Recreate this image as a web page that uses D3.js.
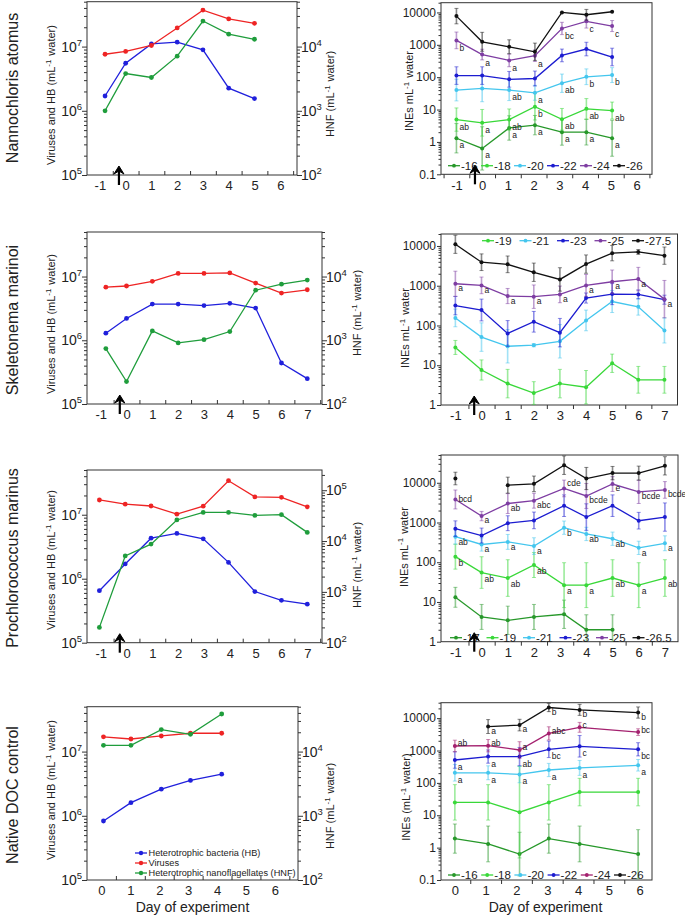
<!DOCTYPE html>
<html><head><meta charset="utf-8">
<script src="https://cdn.jsdelivr.net/npm/d3@7"></script>
<style>
body{margin:0;background:#fff}
svg{display:block}
text{font-family:"Liberation Sans",Arial,sans-serif;fill:#222}
</style>
</head><body>
<svg id="c" width="685" height="918"></svg>
<script>
// ---------------- DATA ----------------
// Left panels: Heterotrophic bacteria (HB), viruses, HNF
const naDays = [-0.8, 0, 1, 2, 3, 4, 5];
const naHB   = [1.7e6, 5.5e6, 1.1e7, 1.17e7, 8.9e6, 2.25e6, 1.55e6];
const naVir  = [7.6e6, 8.4e6, 1.04e7, 1.95e7, 3.7e7, 2.7e7, 2.3e7];
const naHNF  = [1000, 3800, 3300, 7100, 25000, 15600, 13000];

const smDays = [-0.8, 0, 1, 2, 3, 4, 5, 6, 7];
const smHB   = [1.29e6, 2.2e6, 3.7e6, 3.7e6, 3.5e6, 3.8e6, 3.2e6, 4.4e5, 2.5e5];
const smVir  = [6.8e6, 7.1e6, 8.4e6, 1.12e7, 1.12e7, 1.14e7, 7.9e6, 5.5e6, 6.2e6];
const smHNF  = [740, 225, 1400, 910, 1020, 1370, 6100, 7600, 8800];

const pmDays = [-1.05, -0.05, 0.95, 1.95, 2.97, 3.95, 4.97, 6, 7];
const pmHB   = [6.5e5, 1.7e6, 4.3e6, 5.1e6, 4.2e6, 1.8e6, 6.3e5, 4.6e5, 4.0e5];
const pmVir  = [1.7e7, 1.46e7, 1.37e7, 1.02e7, 1.36e7, 3.4e7, 1.9e7, 1.87e7, 1.33e7];
const pmHNF  = [200, 5100, 8700, 26000, 36600, 36600, 32000, 33000, 14800];

const docDays = [0.07, 1.02, 2.07, 3.08, 4.16];
const docHB   = [8.3e5, 1.6e6, 2.6e6, 3.55e6, 4.45e6];
const docVir  = [1.7e7, 1.57e7, 1.75e7, 1.93e7, 1.93e7];
const docHNF  = [12500, 12500, 22000, 18600, 38500];

const leftLegend = ["Heterotrophic bacteria (HB)", "Viruses", "Heterotrophic nanoflagellates (HNF)"];

// Right panels: INEs active at given temperatures (value, error factor, letters)
const naIneDays = [-1, 0, 1.05, 2.05, 3.1, 4.05, 5.05];
const naT = ["-16", "-18", "-20", "-22", "-24", "-26"];
const na16 = [1.3, 0.63, 2.7, 3.3, 2.0, 2.0, 1.3];
const na18 = [4.9, 3.9, 4.9, 12.3, 5.0, 10.5, 9.3];
const na20 = [40, 45, 40, 33, 65, 103, 116];
const na22 = [112, 112, 86, 91, 470, 740, 420];
const na24 = [1370, 500, 330, 460, 3200, 5300, 3800];
const na26 = [7700, 1240, 870, 610, 10000, 8500, 10500];
const naE16 = [2.84, 4.66, 2.38, 1.99, 2.52, 2.49, 3.6];
const naE18 = [2.29, 2.58, 2.13, 2.58, 2.16, 2.08, 1.83];
const naE20 = [2.16, 2.58, 2.11, 1.70, 1.92, 1.75, 1.70];
const naE22 = [1.87, 1.87, 1.75, 1.70, 1.57, 1.62, 1.87];
const naE24 = [1.81, 1.46, 1.57, 1.51, 1.55, 1.61, 1.48];
const naE26 = [1.73, 1.96, 1.64, 1.85, 1, 1.46, 1];
const naL16 = ["a", "a", "a", "a", "a", "a", "a"];
const naL18 = ["ab", "a", "ab", "b", "ab", "ab", "ab"];
const naL20 = ["", "", "ab", "a", "ab", "b", "b"];
const naL24 = ["b", "a", "a", "a", "bc", "c", "c"];

const smIneDays = [-1, 0, 1, 2, 3, 4, 5, 6, 7];
const smT = ["-19", "-21", "-23", "-25", "-27.5"];
const sm19 = [28, 7.6, 3.45, 2.0, 3.45, 2.8, 11.2, 4.3, 4.3];
const sm21 = [155, 51, 30, 32, 40, 134, 400, 295, 75];
const sm23 = [316, 245, 63, 124, 66, 490, 615, 605, 445];
const sm25 = [1120, 1020, 550, 530, 605, 1020, 1260, 1470, 460];
const sm275 = [11000, 3900, 3450, 2180, 1440, 3500, 6600, 7070, 5700];
const smE19 = [1.50, 1.79, 2.28, 1.93, 2.28, 2.63, 1.70, 2.17, 2.17];
const smE21 = [1.67, 2.28, 2.63, 1.1, 2.63, 1.82, 1.89, 1.62, 2.07];
const smE23 = [1.70, 1.88, 2.11, 1.82, 2.28, 1.34, 1.84, 1.3, 1.3];
const smE25 = [2.07, 1.62, 1.55, 1.97, 1.62, 1.88, 1.97, 1.97, 2.95];
const smE275 = [1.69, 1.62, 1.62, 1.70, 1.97, 1.70, 1.56, 1.15, 1.65];
const smL25 = ["a", "a", "a", "a", "a", "a", "a", "a", "a"];

const pmIneDays = [-1, 0, 1, 2, 3.15, 4, 5, 6, 7];
const pmT = ["-17", "-19", "-21", "-23", "-25", "-26.5"];
const pm17 = [13.1, 4.2, 3.45, 4.2, 4.9, 2.0, 2.0, null, null];
const pm19 = [138, 55, 40, 85, 26.5, 26.5, 40, 26.5, 40];
const pm21 = [440, 280, 325, 255, 740, 515, 390, 230, 300];
const pm23 = [700, 470, 960, 1130, 2650, 1370, 2650, 1110, 1370];
const pm25 = [3800, 1450, 3000, 3540, 7200, 4650, 9300, 5900, 6600];
const pm265 = [12800, null, 8700, 9400, 27700, 12800, 17500, 17500, 26700];
const pmE17 = [1.78, 2.06, 2.27, 2.06, 2.27, 2.38, 2.38, 1, 1];
const pmE19 = [2.06, 2.5, 2.89, 2.06, 3.67, 3.67, 2.89, 3.67, 2.89];
const pmE21 = [1.54, 1.47, 1.54, 1.62, 1.47, 1.47, 1.47, 1.47, 1.54];
const pmE23 = [1.57, 1.54, 1.54, 1.62, 1.87, 2.16, 1.87, 1.62, 2.27];
const pmE25 = [1.73, 1.31, 1.78, 1.54, 1.62, 2.06, 1.54, 1.96, 1.62];
const pmE265 = [1.44, 1, 1.59, 1.57, 1.71, 1.90, 1.47, 1.50, 1.70];
const pmL19 = ["b", "ab", "ab", "ab", "a", "a", "ab", "a", "ab"];
const pmL21 = ["ab", "a", "a", "a", "b", "ab", "ab", "a", "a"];
const pmL25 = ["bcd", "a", "ab", "abc", "cde", "bcde", "e", "bcde", "bcde"];

const docIneDays = [0, 1.08, 2.1, 3.05, 4.05, 5.95];
const docT = ["-16", "-18", "-20", "-22", "-24", "-26"];
const doc16 = [1.9, 1.3, 0.63, 1.9, 1.3, 0.63];
const doc18 = [25, 25, 12.4, 25, 52, 52];
const doc20 = [205, 205, 182, 250, 290, 350];
const doc22 = [510, 650, 650, 1090, 1350, 1090];
const doc24 = [1380, 1410, 1040, 3380, 5200, 3700];
const doc26 = [null, 5500, 6100, 21300, 18000, 14900];
const docE16 = [2.82, 3.57, 4.73, 2.82, 3.57, 5.7];
const docE18 = [3.53, 3.53, 25.9, 3.53, 2.66, 2.66];
const docE20 = [1.8, 1.64, 1.8, 1.6, 1.7, 1.51];
const docE22 = [1.8, 1.6, 1.91, 1.8, 2.15, 1.6];
const docE24 = [1.51, 1.55, 1.8, 1.6, 1.42, 1.27];
const docE26 = [1, 1.64, 1.51, 1.34, 1.48, 1.49];
const docL20 = ["a", "a", "a", "a", "a", "a"];
const docL22 = ["a", "a", "ab", "bc", "c", "bc"];
const docL24 = ["ab", "ab", "a", "abc", "c", "bc"];
const docL26 = ["", "a", "a", "b", "b", "b"];

const rowLabels = ["Nannochloris atomus", "Skeletonema marinoi", "Prochlorococcus marinus", "Native DOC control"];

// ---------------- STYLE ----------------
const COL = {hb: "#2020dc", vir: "#ee2424", hnf: "#1f9d3c",
  dg: "#27982a", lg: "#39d839", cy: "#44c6ee", bl: "#1c1cd0", pu: "#7e3da2", mg: "#a4216f", bk: "#111111"};

const svg = d3.select("#c");

function logTicks(dom) {
  const maj = [], min = [];
  const e0 = Math.floor(Math.log10(dom[0])), e1 = Math.ceil(Math.log10(dom[1]));
  for (let e = e0; e <= e1; e++) for (let m = 1; m < 10; m++) {
    const v = +(m * Math.pow(10, e)).toPrecision(6);
    if (v < dom[0] * 0.999 || v > dom[1] * 1.001) continue;
    (m === 1 ? maj : min).push(v);
  }
  return {maj, min};
}

function rotLabel(g, x, y, parts, size) {
  const t = g.append("text").attr("transform", `translate(${x},${y}) rotate(-90)`)
    .attr("text-anchor", "middle").attr("font-size", size);
  parts.forEach(p => {
    if (p.sup) {
      t.append("tspan").attr("dy", -size * 0.38).attr("font-size", size * 0.72).text(p.t);
      t.append("tspan").attr("dy", size * 0.38).text("\u200A");
    } else t.append("tspan").text(p.t);
  });
}

function drawArrow(g, xp, yp) {
  g.append("line").attr("x1", xp).attr("x2", xp).attr("y1", yp + 10).attr("y2", yp - 4)
    .attr("stroke", "#000").attr("stroke-width", 2.2);
  g.append("path").attr("d", `M${xp},${yp - 9} L${xp + 5},${yp - 1} L${xp},${yp - 4} L${xp - 5},${yp - 1} Z`)
    .attr("fill", "#000").attr("stroke", "#000").attr("stroke-width", 1);
}

function xAxisDecor(g, x, c, inward) {
  const [d0, d1] = x.domain();
  const halves = d3.range(Math.ceil(d0 - 0.5) + 0.5, d1, 1).filter(v => v > d0 + 0.05 && v < d1 - 0.05);
  const ax = g.append("g").attr("transform", `translate(0,${c.y1})`)
    .call(d3.axisBottom(x).tickValues(halves).tickSize(inward ? -4 : 4).tickFormat(""));
  ax.select(".domain").remove();
  ax.selectAll("line").attr("stroke", "#333");
  const lab = g.append("g").attr("transform", `translate(0,${c.y1})`)
    .call(d3.axisBottom(x).tickValues(c.xlabels).tickSize(0).tickPadding(6).tickFormat(d => String(d)));
  lab.select(".domain").remove();
  lab.selectAll("text").attr("font-size", 13).attr("fill", "#222")
    .attr("font-family", '"Liberation Sans",Arial,sans-serif');
}

function yAxisLog(g, y, xpos, orient, majLen, minLen) {
  const t = logTicks(y.domain());
  const A = orient === "left" ? d3.axisLeft : d3.axisRight;
  const a1 = g.append("g").attr("transform", `translate(${xpos},0)`)
    .call(A(y).tickValues(t.min).tickSize(minLen).tickFormat(""));
  const a2 = g.append("g").attr("transform", `translate(${xpos},0)`)
    .call(A(y).tickValues(t.maj).tickSize(majLen).tickFormat(""));
  [a1, a2].forEach(a => { a.select(".domain").remove(); a.selectAll("line").attr("stroke", "#333"); });
  return t.maj;
}

// ---------------- LEFT PANELS ----------------
function leftPanel(c) {
  const g = svg.append("g");
  const x = d3.scaleLinear().domain(c.xdom).range([c.x0, c.x1]);
  const yL = d3.scaleLog().domain([1e5, 5e7]).range([c.y1, c.y0]);
  const yR = d3.scaleLog().domain(c.yR).range([c.y1, c.y0]);

  xAxisDecor(g, x, c, true);
  const majL = yAxisLog(g, yL, c.x0, "left", 5, 3);
  const majR = yAxisLog(g, yR, c.x1, "right", 5, 3);
  g.append("rect").attr("x", c.x0).attr("y", c.y0).attr("width", c.x1 - c.x0).attr("height", c.y1 - c.y0)
    .attr("fill", "none").attr("stroke", "#333").attr("stroke-width", 1);

  majL.forEach(v => {
    const t = g.append("text").attr("x", c.x0 - 5).attr("y", yL(v) + 5).attr("text-anchor", "end").attr("font-size", 14);
    t.append("tspan").text("10");
    t.append("tspan").attr("dy", -6).attr("font-size", 9.5).text(Math.round(Math.log10(v)));
  });
  majR.forEach(v => {
    const t = g.append("text").attr("x", c.x1 + 4).attr("y", yR(v) + 5).attr("text-anchor", "start").attr("font-size", 14);
    t.append("tspan").text("10");
    t.append("tspan").attr("dy", -6).attr("font-size", 9.5).text(Math.round(Math.log10(v)));
  });

  rotLabel(g, c.x0 - 32, c.labL, [{t: "Viruses and HB (mL"}, {t: "-1", sup: true}, {t: " water)"}], 11);
  rotLabel(g, c.hnfX, c.labR, [{t: "HNF (mL"}, {t: "-1", sup: true}, {t: " water)"}], 11);
  g.append("text").attr("transform", `translate(17.5,${c.rowY}) rotate(-90)`).attr("text-anchor", "middle")
    .attr("font-size", 16).text(c.row);

  const series = [
    {v: c.hb, y: yL, col: COL.hb},
    {v: c.vir, y: yL, col: COL.vir},
    {v: c.hnf, y: yR, col: COL.hnf}
  ];
  series.forEach(s => {
    const pts = c.days.map((d, i) => ({d, v: s.v[i]}));
    g.append("path").datum(pts).attr("fill", "none").attr("stroke", s.col).attr("stroke-width", 1.3)
      .attr("d", d3.line().x(p => x(p.d)).y(p => s.y(p.v)));
    g.selectAll(null).data(pts).join("circle").attr("cx", p => x(p.d)).attr("cy", p => s.y(p.v))
      .attr("r", 2.4).attr("fill", s.col);
  });
  if (c.arrow) drawArrow(g, x(-0.26), c.y1);
  if (c.legend) {
    const cols = [COL.hb, COL.vir, COL.hnf];
    leftLegend.forEach((name, i) => {
      const yy = c.legend.y + i * 10;
      g.append("line").attr("x1", c.legend.x).attr("x2", c.legend.x + 12).attr("y1", yy).attr("y2", yy)
        .attr("stroke", cols[i]).attr("stroke-width", 1.3);
      g.append("circle").attr("cx", c.legend.x + 6).attr("cy", yy).attr("r", 2.2).attr("fill", cols[i]);
      g.append("text").attr("x", c.legend.x + 13.5).attr("y", yy + 3.3).attr("font-size", 9.2).text(name);
    });
  }
  if (c.xtitle) g.append("text").attr("x", (c.x0 + c.x1) / 2).attr("y", 912).attr("text-anchor", "middle")
    .attr("font-size", 14).text("Day of experiment");
}

// ---------------- RIGHT PANELS ----------------
function rightPanel(c) {
  const g = svg.append("g");
  const x = d3.scaleLinear().domain(c.xdom).range([c.x0, c.x1]);
  const y = d3.scaleLog().domain(c.ydom).range([c.y1, c.y0]).clamp(true);

  xAxisDecor(g, x, c, false);
  const maj = yAxisLog(g, y, c.x0, "left", 4, 2.5);
  g.append("rect").attr("x", c.x0).attr("y", c.y0).attr("width", c.x1 - c.x0).attr("height", c.y1 - c.y0)
    .attr("fill", "none").attr("stroke", "#333").attr("stroke-width", 1);
  maj.forEach(v => {
    g.append("text").attr("x", c.x0 - 5).attr("y", y(v) + 4.2).attr("text-anchor", "end")
      .attr("font-size", 12).text(v < 1 ? String(v) : d3.format("d")(v));
  });
  rotLabel(g, c.labX, c.labY, c.ylab, 11);

  c.series.forEach(s => {
    const pts = c.days.map((d, i) => ({d, v: s.v[i], e: s.e[i], l: s.l ? s.l[i] : ""}));
    const ok = pts.filter(p => p.v != null);
    // error bars
    ok.filter(p => p.e > 1.001).forEach(p => {
      const xp = x(p.d), ya = y(p.v * p.e), yb = y(p.v / p.e);
      g.append("line").attr("x1", xp).attr("x2", xp).attr("y1", ya).attr("y2", yb)
        .attr("stroke", s.col).attr("stroke-opacity", 0.5).attr("stroke-width", 1.6);
      [ya, yb].forEach(yy => {
        if (yy >= c.y1 - 0.5) return;
        g.append("line").attr("x1", xp - 2).attr("x2", xp + 2).attr("y1", yy).attr("y2", yy)
          .attr("stroke", s.col).attr("stroke-opacity", 0.5).attr("stroke-width", 1);
      });
    });
    g.append("path").datum(pts).attr("fill", "none").attr("stroke", s.col).attr("stroke-width", 1.3)
      .attr("d", d3.line().defined(p => p.v != null).x(p => x(p.d)).y(p => y(p.v)));
    g.selectAll(null).data(ok).join("circle").attr("cx", p => x(p.d)).attr("cy", p => y(p.v))
      .attr("r", 2).attr("fill", s.col);
    ok.filter(p => p.l).forEach(p => {
      const dy = (s.ldy || {})[p.l] !== undefined ? s.ldy[p.l] : (s.ly !== undefined ? s.ly : 10);
      g.append("text").attr("x", x(p.d) + 3).attr("y", y(p.v) + dy).attr("font-size", 8.5)
        .attr("fill", "#333").text(p.l);
    });
  });

  // legend
  c.series.forEach((s, i) => {
    const lx = c.leg.x + i * c.leg.step, ly = c.leg.y;
    g.append("line").attr("x1", lx).attr("x2", lx + 12).attr("y1", ly).attr("y2", ly)
      .attr("stroke", s.col).attr("stroke-width", 1.3);
    g.append("circle").attr("cx", lx + 6).attr("cy", ly).attr("r", 1.9).attr("fill", s.col);
    g.append("text").attr("x", lx + 13).attr("y", ly + 4).attr("font-size", 11.5).text(s.name);
  });
  if (c.arrow) drawArrow(g, x(-0.28), c.y1);
  if (c.xtitle) g.append("text").attr("x", (c.x0 + c.x1) / 2 - 1).attr("y", 912).attr("text-anchor", "middle")
    .attr("font-size", 14).text("Day of experiment");
}

// ---------------- LAYOUT ----------------
leftPanel({x0: 87, x1: 297, y0: 1.7, y1: 175, xdom: [-1.5, 6.65], yR: [1e2, 5e4], xlabels: d3.range(-1, 7),
  days: naDays, hb: naHB, vir: naVir, hnf: naHNF, row: rowLabels[0], rowY: 88, labL: 95, labR: 94, hnfX: 334, arrow: true});
leftPanel({x0: 87, x1: 322, y0: 232, y1: 404, xdom: [-1.53, 7.57], yR: [1e2, 5e4], xlabels: d3.range(-1, 8),
  days: smDays, hb: smHB, vir: smVir, hnf: smHNF, row: rowLabels[1], rowY: 320, labL: 324, labR: 313, hnfX: 361, arrow: true});
leftPanel({x0: 87, x1: 322, y0: 470, y1: 642.7, xdom: [-1.53, 7.57], yR: [1e2, 2.5e5], xlabels: d3.range(-1, 8),
  days: pmDays, hb: pmHB, vir: pmVir, hnf: pmHNF, row: rowLabels[2], rowY: 558, labL: 560, labR: 565, hnfX: 361, arrow: true});
leftPanel({x0: 87, x1: 298, y0: 706.7, y1: 880, xdom: [-0.5, 6.8], yR: [1e2, 5e4], xlabels: d3.range(0, 7),
  days: docDays, hb: docHB, vir: docVir, hnf: docHNF, row: rowLabels[3], rowY: 795, labL: 790, labR: 806, hnfX: 334,
  legend: {x: 135, y: 853}, xtitle: true});

const supParts = [{t: "INEs mL"}, {t: "-1", sup: true}, {t: " water"}];
rightPanel({x0: 441, x1: 652, y0: 2.7, y1: 174.3, xdom: [-1.6, 6.6], ydom: [0.1, 2e4], xlabels: d3.range(-1, 7),
  days: naIneDays, labX: 413, labY: 91, ylab: supParts, arrow: true, leg: {x: 448, y: 165.7, step: 33},
  series: [
    {name: naT[0], v: na16, e: naE16, l: naL16, col: COL.dg},
    {name: naT[1], v: na18, e: naE18, l: naL18, col: COL.lg},
    {name: naT[2], v: na20, e: naE20, l: naL20, col: COL.cy},
    {name: naT[3], v: na22, e: naE22, col: COL.bl},
    {name: naT[4], v: na24, e: naE24, l: naL24, col: COL.pu, ly: 11},
    {name: naT[5], v: na26, e: naE26, col: COL.bk}]});
rightPanel({x0: 441, x1: 677.5, y0: 234, y1: 405, xdom: [-1.55, 7.5], ydom: [1, 2e4], xlabels: d3.range(-1, 8),
  days: smIneDays, labX: 409, labY: 328, ylab: supParts, arrow: true, leg: {x: 482, y: 240.7, step: 37.5},
  series: [
    {name: smT[0], v: sm19, e: smE19, col: COL.lg},
    {name: smT[1], v: sm21, e: smE21, col: COL.cy},
    {name: smT[2], v: sm23, e: smE23, col: COL.bl},
    {name: smT[3], v: sm25, e: smE25, l: smL25, col: COL.pu, ly: 7.5},
    {name: smT[4], v: sm275, e: smE275, col: COL.bk}]});
rightPanel({x0: 441, x1: 678, y0: 455, y1: 641.7, xdom: [-1.55, 7.5], ydom: [1, 5e4], xlabels: d3.range(-1, 8),
  days: pmIneDays, labX: 407.5, labY: 547, ylab: supParts, arrow: true, leg: {x: 450, y: 637.7, step: 36.5},
  series: [
    {name: pmT[0], v: pm17, e: pmE17, col: COL.dg},
    {name: pmT[1], v: pm19, e: pmE19, l: pmL19, col: COL.lg, ly: 9},
    {name: pmT[2], v: pm21, e: pmE21, l: pmL21, col: COL.cy, ly: 8},
    {name: pmT[3], v: pm23, e: pmE23, col: COL.bl},
    {name: pmT[4], v: pm25, e: pmE25, l: pmL25, col: COL.pu, ly: 7, ldy: {cde: -2, bcd: 3}},
    {name: pmT[5], v: pm265, e: pmE265, col: COL.bk}]});
rightPanel({x0: 441, x1: 652, y0: 702.7, y1: 880, xdom: [-0.45, 6.4], ydom: [0.1, 3e4], xlabels: d3.range(0, 7),
  days: docIneDays, labX: 410, labY: 797, ylab: [{t: "INEs (mL"}, {t: "-1", sup: true}, {t: " water)"}], arrow: false,
  leg: {x: 448, y: 875, step: 33.2}, xtitle: true,
  series: [
    {name: docT[0], v: doc16, e: docE16, col: COL.dg},
    {name: docT[1], v: doc18, e: docE18, col: COL.lg},
    {name: docT[2], v: doc20, e: docE20, l: docL20, col: COL.cy, ly: 10},
    {name: docT[3], v: doc22, e: docE22, l: docL22, col: COL.bl, ly: 10},
    {name: docT[4], v: doc24, e: docE24, l: docL24, col: COL.mg, ly: 0.5},
    {name: docT[5], v: doc26, e: docE26, l: docL26, col: COL.bk, ly: 7}]});
</script>
</body></html>
